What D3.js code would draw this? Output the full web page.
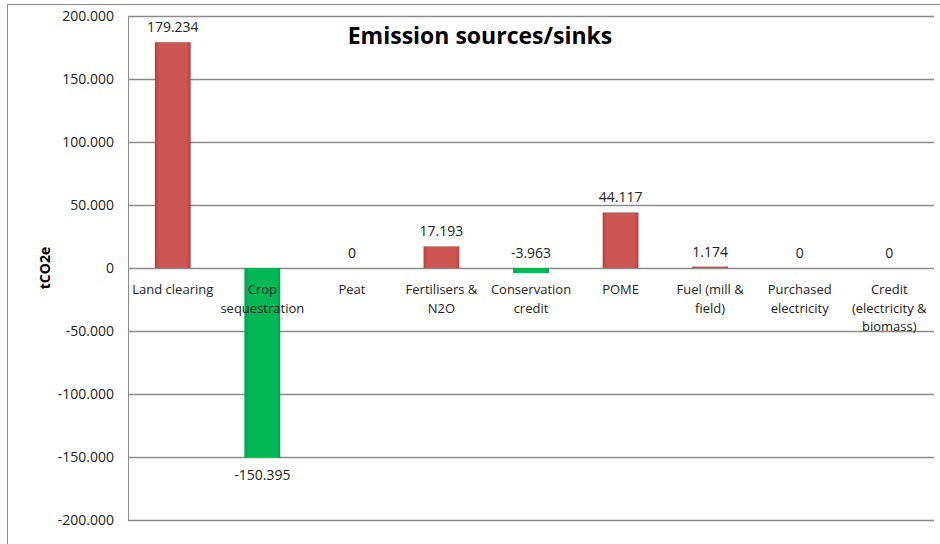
<!DOCTYPE html>
<html><head><meta charset="utf-8">
<script src="https://cdn.jsdelivr.net/npm/d3@7"></script>
<style>body{margin:0;background:#fff}svg{display:block}</style>
</head><body><svg id="c" width="940" height="544"></svg>
<script>
const categories = ["Land clearing","Crop\nsequestration","Peat","Fertilisers &\nN2O","Conservation\ncredit","POME","Fuel (mill &\nfield)","Purchased\nelectricity","Credit\n(electricity &\nbiomass)"];
const values = [179.234,-150.395,0,17.193,-3.963,44.117,1.174,0,0];
const labels = ["179.234","-150.395","0","17.193","-3.963","44.117","1.174","0","0"];
const yTicks = [-200,-150,-100,-50,0,50,100,150,200];
const title = "Emission sources/sinks";
const yTitle = "tCO2e";

const svg = d3.select("#c");
const font = "'Open Sans', sans-serif";
const m = {l:128, r:934, t:16, b:520};
const x = d3.scaleBand().domain(d3.range(categories.length)).range([m.l,m.r]).paddingInner(0.6).paddingOuter(0.3);
const y = d3.scaleLinear().domain([-200,200]).range([m.b,m.t]);

const defs = svg.append("defs");
function grad(id, c0, c1){
  const g = defs.append("linearGradient").attr("id",id).attr("x1",0).attr("x2",1).attr("y1",0).attr("y2",0);
  g.append("stop").attr("offset","0%").attr("stop-color",c0);
  g.append("stop").attr("offset","12%").attr("stop-color",c1);
  g.append("stop").attr("offset","88%").attr("stop-color",c1);
  g.append("stop").attr("offset","100%").attr("stop-color",c0);
}
grad("gr","#b8413e","#cd5552");
grad("gg","#00a04a","#03b855");

// outer frame
svg.append("rect").attr("x",7.5).attr("y",4.5).attr("width",940).attr("height",560).attr("fill","none").attr("stroke","#8c8c8c");

// gridlines
const fmt = d=>d===0?"0":d3.format(".3f")(d).replace("\u2212","-");
const ax = svg.append("g").attr("transform",`translate(${m.l},0)`)
  .call(d3.axisLeft(y).tickValues(yTicks).tickSize(-(m.r-m.l)).tickPadding(14).tickFormat(fmt));
ax.select(".domain").attr("stroke","#8c8c8c");
ax.selectAll(".tick line").attr("stroke","#8c8c8c").attr("stroke-width",1.3);
ax.selectAll(".tick text").attr("font-family",font).attr("font-size","14px").attr("fill","#222");

// bars
svg.append("g").selectAll("rect").data(values).join("rect")
  .attr("x",(d,i)=>x(i)).attr("width",x.bandwidth())
  .attr("y",d=>y(Math.max(0,d))).attr("height",d=>Math.abs(y(d)-y(0)))
  .attr("fill",d=>d<0?"url(#gg)":"url(#gr)");

// data labels
svg.append("g").selectAll("text").data(values).join("text")
  .attr("x",(d,i)=>x(i)+x.bandwidth()/2)
  .attr("y",d=>d<-50 ? y(d)+23 : y(Math.max(0,d))-10)
  .attr("text-anchor","middle").attr("font-family",font).attr("font-size","14px").attr("fill","#222")
  .text((d,i)=>labels[i]);

// category labels
const cg = svg.append("g");
categories.forEach((c,i)=>{
  const t = cg.append("text").attr("x",x(i)+x.bandwidth()/2).attr("y",294)
    .attr("text-anchor","middle").attr("font-family",font).attr("font-size","13px").attr("fill","#222");
  c.split("\n").forEach((ln,j)=>t.append("tspan").attr("x",x(i)+x.bandwidth()/2).attr("dy",j?18.5:0).text(ln));
});

// titles
svg.append("text").attr("x",480).attr("y",44).attr("text-anchor","middle")
  .attr("font-family",font).attr("font-weight","bold").attr("font-size","23px").attr("fill","#000").text(title);
svg.append("text").attr("transform","translate(50,268) rotate(-90)").attr("text-anchor","middle")
  .attr("font-family",font).attr("font-weight","bold").attr("font-size","14px").attr("fill","#000").text(yTitle);
</script></body></html>
